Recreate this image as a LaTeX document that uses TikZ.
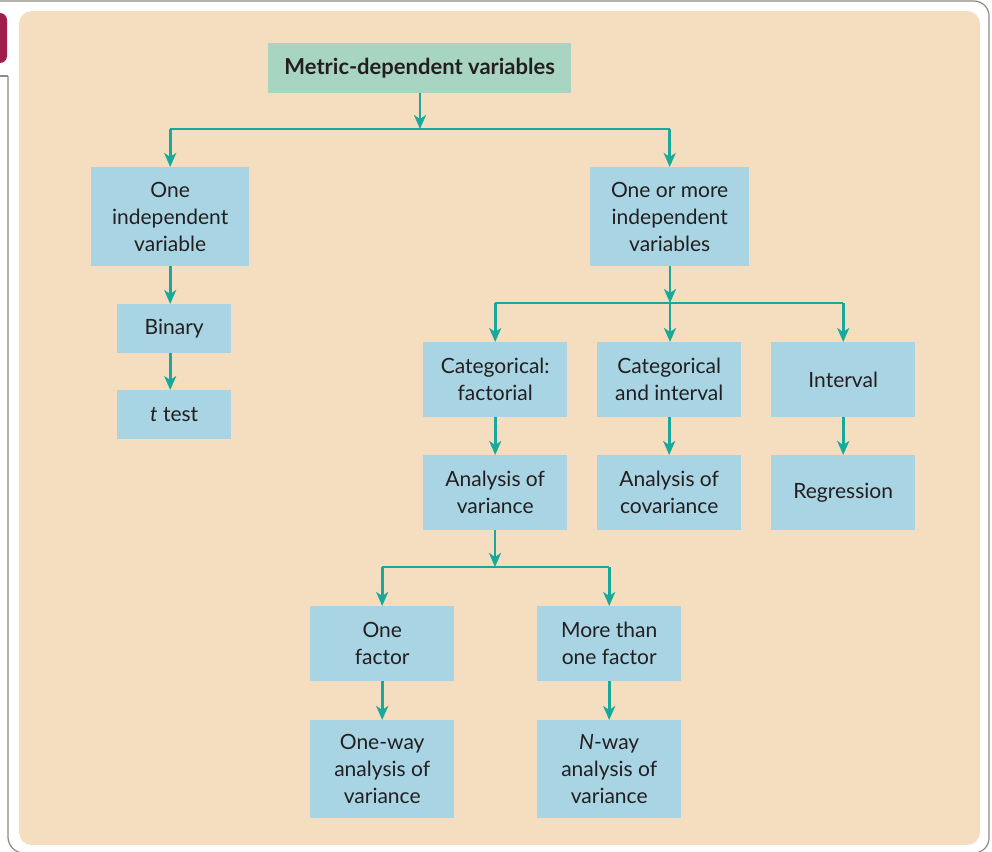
\documentclass[tikz,border=0pt]{standalone}
\usepackage{fontspec}
\setmainfont{Lato}
\usetikzlibrary{arrows.meta}
\definecolor{beige}{HTML}{F5DEC0}
\definecolor{boxblue}{HTML}{A9D4E3}
\definecolor{boxgreen}{HTML}{A8D5C2}
\definecolor{teal}{HTML}{17A99C}
\definecolor{maroon}{HTML}{A01F4A}
\definecolor{framegray}{HTML}{8C8C80}
\definecolor{ink}{HTML}{231F20}
\tikzset{
  x=1pt, y=-1pt,
  bx/.style={fill=boxblue, inner sep=0pt, align=center, text=ink,
    font=\fontsize{21}{27}\selectfont, anchor=north west},
  conn/.style={draw=teal, line width=2.8pt, -{Stealth[length=14pt,width=12pt,inset=4pt]}},
  seg/.style={draw=teal, line width=2.8pt},
}
\newcommand{\bxnode}[6]{% name, x1,y1,x2,y2,text
  \node[bx, minimum width={(#4-#2)*1pt}, minimum height={(#5-#3)*1pt}] (#1) at (#2,#3) {#6};}
\begin{document}
\begin{tikzpicture}
\useasboundingbox (0,0) rectangle (992,851);
\fill[white] (0,0) rectangle (992,851);
% outer frame
\draw[framegray, line width=1.2pt, rounded corners=15pt] (0,1) -- (989,1) -- (989,853) -- (960,853);
\draw[framegray, line width=1.2pt] (0,76) -- (8,76);
\draw[framegray, line width=1.2pt, rounded corners=16pt] (8,76) -- (8,853) -- (40,853);
% maroon tab
\begin{scope}
\clip (0,0) rectangle (20,80);
\fill[maroon, rounded corners=7pt] (-10,13) rectangle (7,63);
\end{scope}
% panel
\fill[beige, rounded corners=13pt] (19,11) rectangle (980,845);

% nodes
\node[fill=boxgreen, inner sep=0pt, anchor=north west, minimum width=303pt, minimum height=50pt,
  text=ink, font=\fontsize{22}{27}\selectfont\bfseries] (top) at (268,43) {Metric-dependent variables};
\bxnode{oiv}{91}{167}{249}{266}{One\\independent\\variable}
\bxnode{bin}{117}{304}{231}{353}{Binary}
\bxnode{tt}{117}{390}{231}{439}{\textit{t} test}
\bxnode{omiv}{590}{167}{749}{266}{One or more\\independent\\variables}
\bxnode{cf}{423}{342}{567}{417}{Categorical:\\factorial}
\bxnode{ci}{597}{342}{741}{417}{Categorical\\and interval}
\bxnode{iv}{771}{342}{915}{417}{Interval}
\bxnode{aov}{423}{455}{567}{530}{Analysis of\\variance}
\bxnode{acov}{597}{455}{741}{530}{Analysis of\\covariance}
\bxnode{reg}{771}{455}{915}{530}{Regression}
\bxnode{of}{310}{606}{454}{681}{One\\factor}
\bxnode{mof}{537}{606}{681}{681}{More than\\one factor}
\bxnode{ow}{310}{720}{454}{818}{One-way\\analysis of\\variance}
\bxnode{nw}{537}{720}{681}{818}{\textit{N}-way\\analysis of\\variance}

% branch coordinates
\coordinate (b1) at (420,129);
\coordinate (b2) at (670,303);
\coordinate (b3) at (495,567);

% top branch
\draw[conn] (top.south -| b1) -- (b1);
\draw[seg] (oiv.north |- b1) -- (omiv.north |- b1);
\draw[conn] (oiv.north |- b1) -- (oiv.north);
\draw[conn] (omiv.north |- b1) -- (omiv.north);
\draw[conn] (oiv.south) -- (oiv.south |- bin.north);
\draw[conn] (oiv.south |- bin.south) -- (oiv.south |- tt.north);

% right branch
\draw[conn] (omiv.south -| b2) -- (b2);
\draw[seg] (cf.north |- b2) -- (iv.north |- b2);
\draw[conn] (cf.north |- b2) -- (cf.north);
\draw[conn] (b2) -- (b2 |- ci.north);
\draw[conn] (iv.north |- b2) -- (iv.north);
\draw[conn] (cf) -- (aov);
\draw[conn] (ci) -- (acov);
\draw[conn] (iv) -- (reg);

% anova branch
\draw[conn] (aov.south -| b3) -- (b3);
\draw[seg] (of.north |- b3) -- (mof.north |- b3);
\draw[conn] (of.north |- b3) -- (of.north);
\draw[conn] (mof.north |- b3) -- (mof.north);
\draw[conn] (of) -- (ow);
\draw[conn] (mof) -- (nw);
\end{tikzpicture}
\end{document}
